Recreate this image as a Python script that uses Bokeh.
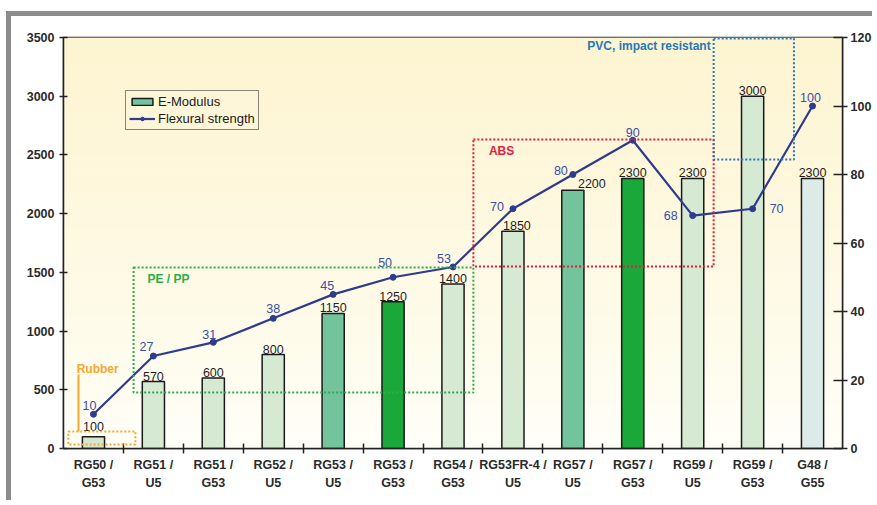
from bokeh.plotting import figure
from bokeh.models import (ColumnDataSource, LinearAxis, Range1d, FixedTicker,
                          BoxAnnotation, Label, Legend, LegendItem, Arrow)
from bokeh.embed import file_html
from bokeh.resources import INLINE
from bokeh.core.properties import value

# ---------------- data ----------------
categories = ["RG50 /\nG53", "RG51 /\nU5", "RG51 /\nG53", "RG52 /\nU5", "RG53 /\nU5",
              "RG53 /\nG53", "RG54 /\nG53", "RG53FR-4 /\nU5", "RG57 /\nU5",
              "RG57 /\nG53", "RG59 /\nU5", "RG59 /\nG53", "G48 /\nG55"]
e_modulus = [100, 570, 600, 800, 1150, 1250, 1400, 1850, 2200, 2300, 2300, 3000, 2300]
flexural_strength = [10, 27, 31, 38, 45, 50, 53, 70, 80, 90, 68, 70, 100]
left_ticks = [0, 500, 1000, 1500, 2000, 2500, 3000, 3500]
right_ticks = [0, 20, 40, 60, 80, 100, 120]

# ---------------- styles ----------------
LIGHT = "#d6e9d3"
MID = "#73c39d"
DARK = "#1aa83b"
bar_colors = ["#d3e7cf", LIGHT, LIGHT, LIGHT, MID, DARK, LIGHT, LIGHT, MID, DARK,
              LIGHT, LIGHT, "#dcebe8"]
bar_dx = [0, 0, 0, 0, 0, 0, 0, 4, 19, 0, 0, 0, 0]
bar_dy = [-6, -1, -1, -1, -1, -1, -1, -1, -2, -1, -1, -1, -1]
line_dx = [-4, -7, -4, 0, -6, -8, -9, -16, -12, 0, -22, 24, -2]
line_dy = [-9, -10, -8, -10, -9, -15, -8, -2, -4, -8, 0, 0, -9]

FONT = "Liberation Sans"
LINE_COLOR = "#2e3b8e"
VAL_BLUE = "#3a4ea4"
TEXT = "#1e1e1e"
FRAME = "#8c8c8c"

n = len(categories)
xpos = [i + 0.5 for i in range(n)]

p = figure(width=866, height=489, output_backend="svg", toolbar_location=None,
           x_range=Range1d(0, n), y_range=Range1d(0, 3500),
           min_border_left=52, min_border_right=35, min_border_top=21, min_border_bottom=57,
           styles={"margin-left": "6px", "margin-top": "11px",
                   "border-left": "5px solid " + FRAME, "border-top": "5px solid " + FRAME})
p.extra_y_ranges = {"fs": Range1d(0, 120)}
p.background_fill_color = "white"
p.border_fill_color = "white"
p.outline_line_color = "#222222"
p.outline_line_width = 1.5
p.xgrid.visible = False
p.ygrid.visible = False

# gradient background (cream at top -> white at bottom)
top_rgb = (253, 244, 208)
bot_rgb = (255, 255, 250)
nb = 28
for k in range(nb):
    t = (k + 0.5) / nb
    w = t ** 0.8
    c = tuple(int(round(bot_rgb[j] + (top_rgb[j] - bot_rgb[j]) * w)) for j in range(3))
    p.add_layout(BoxAnnotation(bottom=3500 * k / nb, top=3500 * (k + 1) / nb + 2,
                               fill_color="#%02x%02x%02x" % c, fill_alpha=1.0,
                               line_color=None, level="underlay"))

src = ColumnDataSource(dict(x=xpos, e=e_modulus, f=flexural_strength, color=bar_colors,
                            elab=[str(v) for v in e_modulus],
                            flab=[str(v) for v in flexural_strength],
                            bdx=bar_dx, bdy=bar_dy, ldx=line_dx, ldy=line_dy))

bars = p.vbar(x="x", top="e", width=0.37, source=src, fill_color="color",
              line_color="#1a1a1a", line_width=1.5)

ln = p.line(x="x", y="f", source=src, y_range_name="fs", line_color=LINE_COLOR, line_width=2.2)
pts = p.scatter(x="x", y="f", source=src, y_range_name="fs", marker="circle", size=6,
                fill_color=LINE_COLOR, line_color=LINE_COLOR)

p.text(x="x", y="e", text="elab", source=src, x_offset="bdx", y_offset="bdy",
       text_align="center", text_baseline="bottom", text_font=value(FONT),
       text_font_size="12.5px", text_color=TEXT)
p.text(x="x", y="f", text="flab", source=src, y_range_name="fs", x_offset="ldx",
       y_offset="ldy", text_align="center", text_baseline="middle", text_font=value(FONT),
       text_font_size="12.5px", text_color=VAL_BLUE)

# ---------------- axes ----------------
xa = p.xaxis[0]
xa.ticker = FixedTicker(ticks=xpos, minor_ticks=list(range(1, n)))
xa.major_label_overrides = {x: c for x, c in zip(xpos, categories)}
xa.major_tick_line_color = None
xa.major_tick_in = 0
xa.major_tick_out = 0
xa.minor_tick_in = 5
xa.minor_tick_out = 5
xa.minor_tick_line_color = "#222222"
xa.minor_tick_line_width = 1.5
xa.axis_line_color = "#222222"
xa.axis_line_width = 1.5
xa.major_label_standoff = 4
xa.major_label_text_font = FONT
xa.major_label_text_font_size = "12.5px"
xa.major_label_text_font_style = "bold"
xa.major_label_text_color = "#2a2a2a"
xa.major_label_text_line_height = 1.35

ya = p.yaxis[0]
ya.ticker = FixedTicker(ticks=left_ticks)
ya.major_tick_in = 4
ya.major_tick_out = 4
ya.minor_tick_line_color = None
ya.major_tick_line_color = "#222222"
ya.major_tick_line_width = 1.5
ya.axis_line_color = "#222222"
ya.axis_line_width = 1.5
ya.major_label_standoff = 5
ya.major_label_text_font = FONT
ya.major_label_text_font_size = "12.5px"
ya.major_label_text_font_style = "bold"
ya.major_label_text_color = "#2a2a2a"

ra = LinearAxis(y_range_name="fs", ticker=FixedTicker(ticks=right_ticks))
ra.major_tick_in = 9
ra.major_tick_out = 5
ra.minor_tick_line_color = None
ra.major_tick_line_color = "#222222"
ra.major_tick_line_width = 1.5
ra.axis_line_color = "#222222"
ra.axis_line_width = 1.5
ra.major_label_standoff = 3
ra.major_label_text_font = FONT
ra.major_label_text_font_size = "12.5px"
ra.major_label_text_font_style = "bold"
ra.major_label_text_color = "#2a2a2a"
p.add_layout(ra, "right")

# ---------------- group boxes ----------------
def dotted_box(l, r, b, t, color):
    p.add_layout(BoxAnnotation(left=l, right=r, bottom=b, top=t, fill_color=None,
                               fill_alpha=0, line_color=color, line_alpha=1.0, line_width=2,
                               line_dash="2 2", level="overlay"))

ORANGE = "#f2a92e"
GREEN = "#2aae4a"
RED = "#e2203e"
BLUE = "#2a78b8"
dotted_box(0.08, 1.2, 34, 145, ORANGE)
dotted_box(1.17, 6.84, 477, 1542, GREEN)
dotted_box(6.84, 10.85, 1550, 2632, RED)
dotted_box(10.85, 12.19, 2462, 3492, BLUE)

p.add_layout(Arrow(end=None, x_start=0.25, y_start=145, x_end=0.25, y_end=630,
                   line_color=ORANGE, line_width=2))


def tag(x, y, text, color, align="left"):
    p.add_layout(Label(x=x, y=y, text=text, text_color=color, text_font=FONT,
                       text_font_size="12px", text_font_style="bold",
                       text_align=align, text_baseline="middle"))

tag(0.22, 681, "Rubber", ORANGE)
tag(1.40, 1440, "PE / PP", GREEN)
tag(7.10, 2530, "ABS", RED)
tag(10.80, 3424, "PVC, impact resistant", BLUE, align="right")

# ---------------- legend ----------------
legend = Legend(items=[LegendItem(label="E-Modulus", renderers=[bars], index=4),
                       LegendItem(label="Flexural strength", renderers=[ln, pts])],
                location=(62, 318), orientation="vertical")
legend.background_fill_color = "#fdf6d8"
legend.background_fill_alpha = 1.0
legend.border_line_color = "#111111"
legend.border_line_width = 1.5
legend.label_text_font = FONT
legend.label_text_font_size = "13px"
legend.label_text_color = "#1a1a1a"
legend.glyph_width = 26
legend.glyph_height = 9
legend.label_height = 13
legend.spacing = 2
legend.padding = 3
legend.margin = 0
legend.label_standoff = 3
p.add_layout(legend, "center")

open("out.html", "w").write(file_html(p, INLINE))
